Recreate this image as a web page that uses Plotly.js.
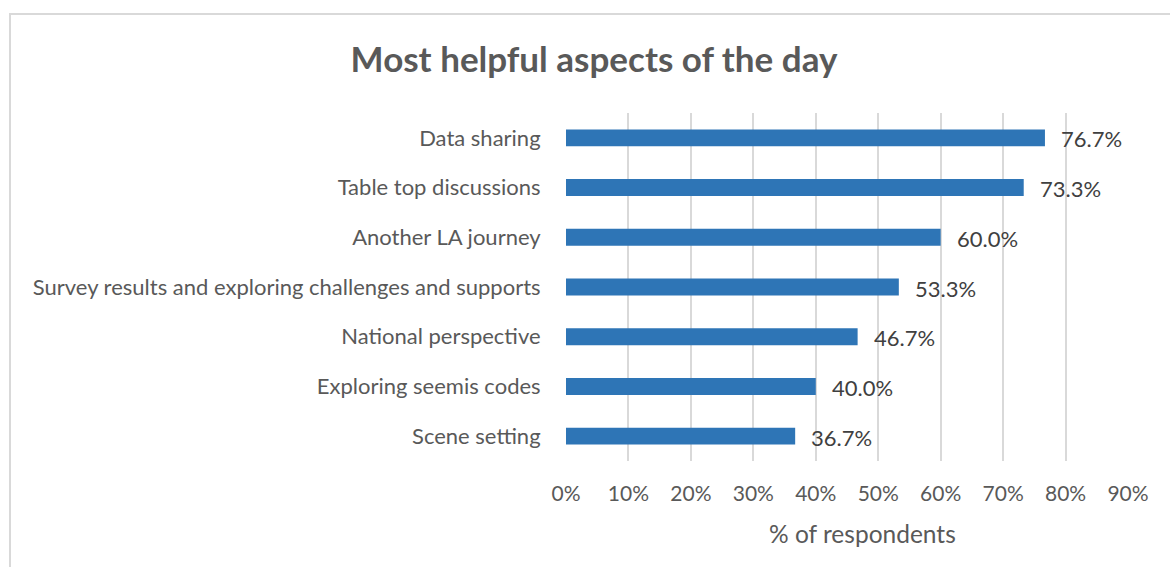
<!DOCTYPE html>
<html>
<head>
<meta charset="utf-8">
<script src="https://cdn.plot.ly/plotly-3.0.1.min.js"></script>
<style>
  html, body { margin: 0; padding: 0; background: #fff; overflow: hidden; }
  #frame { position: absolute; left: 9px; top: 13px; width: 1200px; height: 600px; border: 2px solid #D9D9D9; box-sizing: border-box; pointer-events: none; z-index: 10; }
  #chart { width: 1170px; height: 567px; }
</style>
</head>
<body>
<div id="frame"></div>
<div id="chart"></div>
<script>
const categories = [
  "Scene setting",
  "Exploring seemis codes",
  "National perspective",
  "Survey results and exploring challenges and supports",
  "Another LA journey",
  "Table top discussions",
  "Data sharing"
];
const values = [0.367, 0.400, 0.467, 0.533, 0.600, 0.733, 0.767];
const tickVals = [0, 0.1, 0.2, 0.3, 0.4, 0.5, 0.6, 0.7, 0.8, 0.9];
const tickText = ["0%", "10%", "20%", "30%", "40%", "50%", "60%", "70%", "80%", "90%"];
const xAxisTitle = "% of respondents";
const chartTitle = "Most helpful aspects of the day";

const FONT = "Lato, 'Open Sans', sans-serif";

const trace = {
  type: "bar",
  orientation: "h",
  y: categories,
  x: values,
  marker: { color: "#2E75B6" },
  hoverinfo: "skip"
};

const annotations = values.map((v, i) => ({
  x: v,
  y: categories[i],
  xref: "x",
  yref: "y",
  text: (v * 100).toFixed(1) + "%",
  showarrow: false,
  xanchor: "left",
  yanchor: "middle",
  xshift: 14,
  yshift: -1,
  font: { family: FONT, size: 22, color: "#404040" }
}));

annotations.push({
  x: (862 - 566) / 562,
  y: -(533 - 461) / 348,
  xref: "paper",
  yref: "paper",
  text: xAxisTitle,
  showarrow: false,
  xanchor: "center",
  yanchor: "middle",
  font: { family: FONT, size: 24.5, color: "#595959" }
});

const layout = {
  width: 1170,
  height: 567,
  margin: { l: 566, r: 42, t: 113, b: 106 },
  paper_bgcolor: "#fff",
  plot_bgcolor: "#fff",
  showlegend: false,
  bargap: 0.66,
  annotations: annotations,
  title: {
    text: "<b>" + chartTitle + "</b>",
    font: { family: FONT, size: 35, color: "#595959" },
    x: 594 / 1170,
    xanchor: "center",
    xref: "container",
    y: 1 - 60 / 567,
    yanchor: "middle",
    yref: "container"
  },
  xaxis: {
    range: [0, 0.9],
    tickvals: tickVals,
    ticktext: tickText,
    showgrid: true,
    gridcolor: "#D9D9D9",
    gridwidth: 2,
    zeroline: false,
    showline: false,
    ticks: "outside",
    ticklen: 14,
    tickcolor: "rgba(0,0,0,0)",
    tickfont: { family: FONT, size: 21, color: "#595959" },
    fixedrange: true
  },
  yaxis: {
    showgrid: false,
    zeroline: false,
    showline: false,
    ticks: "outside",
    ticklen: 20,
    tickcolor: "rgba(0,0,0,0)",
    tickfont: { family: FONT, size: 22, color: "#595959" },
    fixedrange: true
  }
};

Plotly.newPlot("chart", [trace], layout, { displayModeBar: false, staticPlot: true });
</script>
</body>
</html>
